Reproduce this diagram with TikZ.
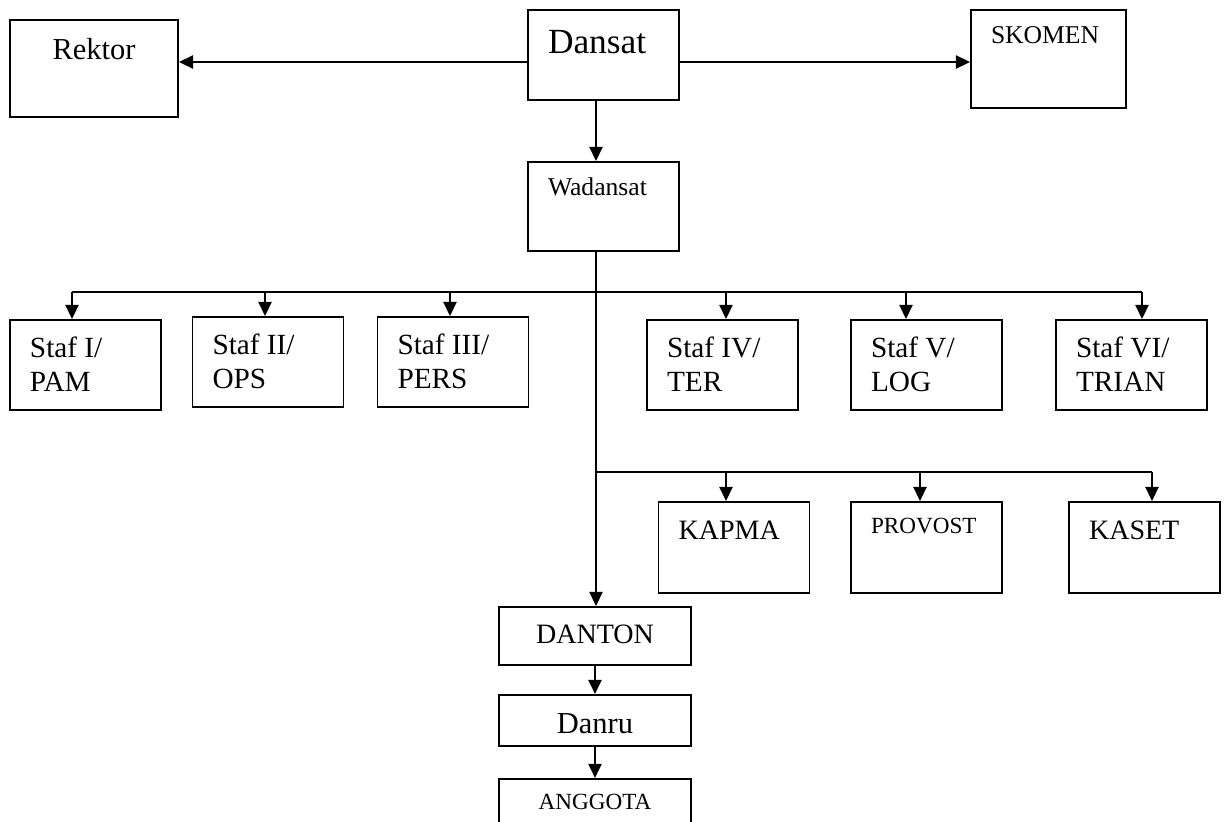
\documentclass[tikz,border=0pt]{standalone}
\usepackage{fontspec}
\setmainfont{Liberation Serif}
\usetikzlibrary{arrows.meta,positioning}
\newlength\pxu
\setlength\pxu{0.41pt}

\begin{document}
\begin{tikzpicture}[
    x=\pxu, y=-\pxu,
    line width=0.8pt,
    unit/.style={draw, anchor=north, inner ysep=0pt, inner xsep=0pt},
    lbox/.style={unit, inner xsep=20\pxu, text width=111\pxu, align=flush left},
    cbox/.style={unit, align=center},
    staf/.style={lbox, text height=38\pxu, text depth=52\pxu, font=\fontsize{12}{13.9}\selectfont},
    seksi/.style={lbox, text height=38\pxu, text depth=53\pxu, font=\fontsize{11.5}{13}\selectfont},
    >={Triangle[width=5.4pt,length=5.8pt]}
]
\path[use as bounding box, clip] (0,0) rectangle (1226,821);

% Top row
\node[cbox, minimum width=168\pxu, text height=40\pxu, text depth=57\pxu, font=\fontsize{12.5}{15}\selectfont] (rektor) at (94,19) {Rektor};
\node[lbox, text height=44\pxu, text depth=46\pxu, font=\fontsize{14.5}{17}\selectfont] (dansat) at (603.5,9) {Dansat};
\node[lbox, text width=115\pxu, text height=34\pxu, text depth=64\pxu, font=\fontsize{10.5}{12}\selectfont] (skomen) at (1048.5,9) {SKOMEN};
\node[lbox, text height=34\pxu, text depth=55\pxu, font=\fontsize{10.5}{12}\selectfont] (wadansat) at (603.5,161) {Wadansat};

% Staf row
\node[staf] (staf1) at (85.5,319) {Staf I/\\PAM};
\node[staf] (staf2) at (268,316) {Staf II/\\OPS};
\node[staf] (staf3) at (453,316) {Staf III/\\PERS};
\node[staf] (staf4) at (722.5,319) {Staf IV/\\TER};
\node[staf] (staf5) at (926.5,319) {Staf V/\\LOG};
\node[staf] (staf6) at (1131.5,319) {Staf VI/\\TRIAN};

% Seksi row
\node[seksi] (kapma) at (734,501) {KAPMA};
\node[seksi, text height=32\pxu, text depth=59\pxu, font=\fontsize{9.5}{11}\selectfont] (provost) at (926.5,501) {PROVOST};
\node[seksi] (kaset) at (1144.5,501) {KASET};

% Satuan
\node[cbox, minimum width=192\pxu, text height=37\pxu, text depth=21\pxu, font=\fontsize{11.5}{13}\selectfont] (danton) at (595,606) {DANTON};
\node[cbox, minimum width=192\pxu, text height=39\pxu, text depth=12\pxu, font=\fontsize{12.5}{15}\selectfont, below=28\pxu of danton] (danru) {Danru};
\node[cbox, minimum width=192\pxu, text height=31\pxu, text depth=60\pxu, font=\fontsize{9.5}{11}\selectfont, below=31\pxu of danru] (anggota) {ANGGOTA};

% Connectors
\coordinate (mid) at (0,62);
\coordinate (bus1) at (596,292);
\coordinate (bus2) at (596,472);
\draw[->] (dansat.west |- mid) -- (rektor.east |- mid);
\draw[->] (dansat.east |- mid) -- (skomen.west |- mid);
\draw[->] (dansat.south -| bus1) -- (wadansat.north -| bus1);
\draw[->] (wadansat.south -| bus1) -- (danton.north -| bus1);

\draw ([xshift=-13.5\pxu]staf1.north |- bus1) -- ([xshift=10.5\pxu]staf6.north |- bus1);
\foreach \n/\dx in {staf1/-13.5, staf2/-3, staf3/-3, staf4/3.5, staf5/-20.5, staf6/10.5}
  \draw[->] ([xshift=\dx\pxu]\n.north |- bus1) -- ([xshift=\dx\pxu]\n.north);

\draw (bus2) -- ([xshift=7.5\pxu]kaset.north |- bus2);
\foreach \n/\dx in {kapma/-8, provost/-6.5, kaset/7.5}
  \draw[->] ([xshift=\dx\pxu]\n.north |- bus2) -- ([xshift=\dx\pxu]\n.north);

\draw[->] (danton.south) -- (danru.north);
\draw[->] (danru.south) -- (anggota.north);
\end{tikzpicture}
\end{document}
